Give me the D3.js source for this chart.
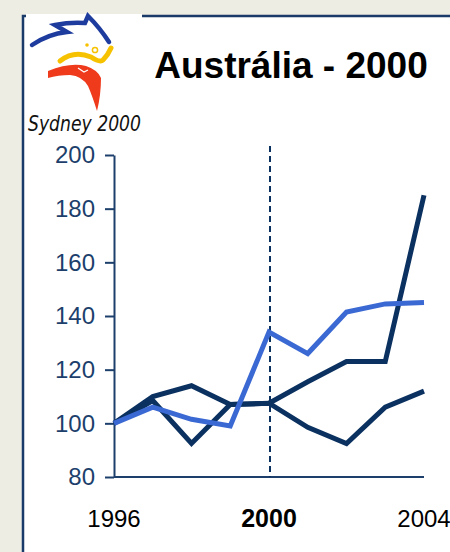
<!DOCTYPE html>
<html>
<head>
<meta charset="utf-8">
<script src="https://cdn.jsdelivr.net/npm/d3@7"></script>
<style>
  body { margin: 0; background: #eeede3; }
  svg { display: block; font-family: "Liberation Sans", Arial, sans-serif; }
</style>
</head>
<body>
<svg id="chart"></svg>
<script>
var years = [1996, 1997, 1998, 1999, 2000, 2001, 2002, 2003, 2004];
var serieAlta  = [100, 110, 114, 107, 107.5, 115.5, 123, 123, 185];
var serieBaixa = [100, 108.5, 92.5, 107, 107.5, 98.5, 92.5, 106, 112];
var serieClara = [100, 106, 101.5, 99, 134, 126, 141.5, 144.5, 145];
var yTicks = [80, 100, 120, 140, 160, 180, 200];
var yearLabels = [1996, 2000, 2004];

var width = 450, height = 552;
var navy = "#0b3160";
var axisColor = "#1d3f6c";

var svg = d3.select("#chart")
  .attr("width", width)
  .attr("height", height);

// white panel with navy border on left and top
svg.append("rect")
  .attr("x", 22).attr("y", 15)
  .attr("width", width - 22).attr("height", height - 15)
  .attr("fill", "white");
svg.append("path")
  .attr("d", "M23," + height + "V16H" + width)
  .attr("fill", "none")
  .attr("stroke", "#1a3a6a")
  .attr("stroke-width", 2.5);

// logo (rough drawing)
var logo = svg.append("g");
logo.append("rect").attr("x", 26).attr("y", 14).attr("width", 116).attr("height", 122).attr("fill", "white");
logo.append("path")
  .attr("d", "M32,45 Q48,34 67,32 L55,25 Q70,22 85,23 L88,16 Q100,28 109,42")
  .attr("fill", "none").attr("stroke", "#1e3c9e")
  .attr("stroke-width", 4.5).attr("stroke-linejoin", "miter").attr("stroke-linecap", "round");
logo.append("path")
  .attr("d", "M60,61 Q74,50 91,57 Q100,63 103,60 Q108,55 111,48")
  .attr("fill", "none").attr("stroke", "#f6c200")
  .attr("stroke-width", 5).attr("stroke-linecap", "round");
logo.append("circle").attr("cx", 87).attr("cy", 45).attr("r", 1.8).attr("fill", "#f6c200");
logo.append("circle").attr("cx", 95).attr("cy", 50).attr("r", 2.6).attr("fill", "none")
  .attr("stroke", "#f6c200").attr("stroke-width", 1.5);
logo.append("path")
  .attr("d", "M48,71 Q70,62 86,66 Q98,70 101,78 Q101,95 97,111 Q92,95 88,86 Q82,76 70,75 Q58,75 48,78 Z")
  .attr("fill", "#ef3a1c");
logo.append("path")
  .attr("d", "M78,68 L84,72 L88,70")
  .attr("fill", "none").attr("stroke", "white").attr("stroke-width", 1.2);
logo.append("text")
  .attr("x", 28).attr("y", 131)
  .attr("textLength", 113)
  .attr("lengthAdjust", "spacingAndGlyphs")
  .attr("font-family", "'DejaVu Sans', sans-serif")
  .attr("font-style", "italic")
  .attr("font-size", 21)
  .attr("fill", "#111")
  .text("Sydney 2000");

// title
svg.append("text")
  .attr("x", 291).attr("y", 78)
  .attr("text-anchor", "middle")
  .attr("font-size", 37)
  .attr("font-weight", "bold")
  .attr("fill", "#000")
  .text("Austrália - 2000");

var x = d3.scaleLinear().domain([1996, 2004]).range([114, 424]);
var y = d3.scaleLinear().domain([80, 200]).range([477, 155]);

// y axis
var yAxis = svg.append("g")
  .attr("transform", "translate(" + x(1996) + ",0)")
  .call(d3.axisLeft(y).tickValues(yTicks).tickSize(9).tickSizeOuter(0).tickPadding(10));
yAxis.select(".domain").attr("stroke", axisColor).attr("stroke-width", 2);
yAxis.selectAll(".tick line").attr("stroke", axisColor).attr("stroke-width", 2);
yAxis.selectAll(".tick text")
  .attr("fill", axisColor)
  .attr("font-size", 24)
  .attr("font-family", "'Liberation Sans', Arial, sans-serif");

// x axis line
svg.append("line")
  .attr("x1", x(1996)).attr("x2", x(2004))
  .attr("y1", y(80)).attr("y2", y(80))
  .attr("stroke", axisColor).attr("stroke-width", 2);

// dashed line at 2000
svg.append("line")
  .attr("x1", x(2000) + 1).attr("x2", x(2000) + 1)
  .attr("y1", 146).attr("y2", y(80))
  .attr("stroke", navy).attr("stroke-width", 2)
  .attr("stroke-dasharray", "6,4");

// year labels
svg.selectAll("text.year")
  .data(yearLabels)
  .enter()
  .append("text")
  .attr("class", "year")
  .attr("x", function(d){ return x(d); })
  .attr("y", 527)
  .attr("text-anchor", "middle")
  .attr("font-size", function(d){ return d === 2000 ? 25 : 24; })
  .attr("font-weight", function(d){ return d === 2000 ? "bold" : "normal"; })
  .attr("fill", "#000")
  .text(function(d){ return d; });

// lines
var line = d3.line()
  .x(function(d, i){ return x(years[i]); })
  .y(function(d){ return y(d); });

var series = [
  { values: serieAlta, color: navy },
  { values: serieBaixa, color: navy },
  { values: serieClara, color: "#3b69d3" }
];

svg.selectAll("path.serie")
  .data(series)
  .enter()
  .append("path")
  .attr("class", "serie")
  .attr("d", function(d){ return line(d.values); })
  .attr("fill", "none")
  .attr("stroke", function(d){ return d.color; })
  .attr("stroke-width", 5)
  .attr("stroke-linejoin", "miter");
</script>
</body>
</html>
